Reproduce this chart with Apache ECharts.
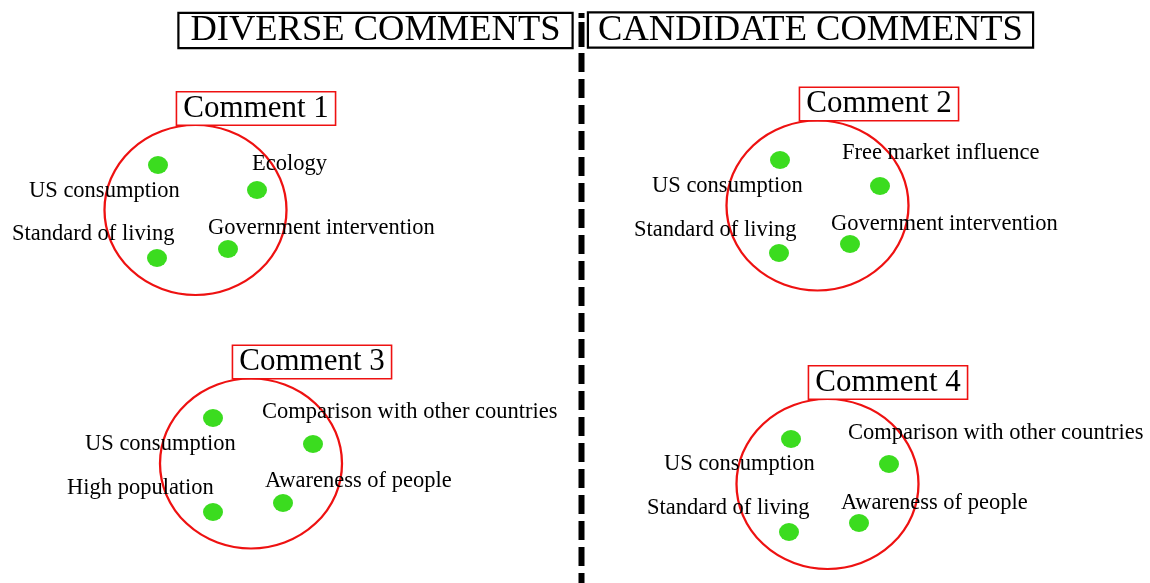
<!DOCTYPE html>
<html>
<head>
<meta charset="utf-8">
<script src="https://cdn.jsdelivr.net/npm/echarts@6/dist/echarts.min.js"></script>
<style>
html,body{margin:0;padding:0;background:#fff;}
#chart{width:1150px;height:583px;}
</style>
</head>
<body>
<div id="chart"></div>
<script>
// ---- data (diagram coordinates: x right, y down) ----
var headerNames = ['DIVERSE COMMENTS', 'CANDIDATE COMMENTS'];
var headerCenters = [[375.5, 30.5], [810.5, 30]];

var commentNames = ['Comment 1', 'Comment 2', 'Comment 3', 'Comment 4'];
var commentBoxCenters = [[256, 108.5], [879, 104], [312, 362], [888, 382.5]];
var circleCenters = [[195.5, 210], [817.5, 205.5], [251, 463.5], [827.5, 484]];

var dots1 = [[158, 165], [257, 190], [157, 258], [228, 249]];
var dots2 = [[780, 160], [880, 186], [779, 253], [850, 244]];
var dots3 = [[213, 418], [313, 444], [213, 512], [283, 503]];
var dots4 = [[791, 439], [889, 464], [789, 532], [859, 523]];

var labels1 = ['US consumption', 'Ecology', 'Standard of living', 'Government intervention'];
var labelAnchors1 = [[29, 190], [252, 163], [12, 233], [208, 227]];
var labels2 = ['US consumption', 'Free market influence', 'Standard of living', 'Government intervention'];
var labelAnchors2 = [[652, 185], [842, 152], [634, 229], [831, 223]];
var labels3 = ['US consumption', 'Comparison with other countries', 'High population', 'Awareness of people'];
var labelAnchors3 = [[85, 443], [262, 411], [67, 487], [265, 480]];
var labels4 = ['US consumption', 'Comparison with other countries', 'Standard of living', 'Awareness of people'];
var labelAnchors4 = [[664, 463], [848, 432], [647, 507], [841, 502]];

var dividerTop = [[581.5, 13], [581.5, 18]];
var dividerUpper = [[581.5, 22], [581.5, 47]];
var dividerMain = [[581.5, 53], [581.5, 583]];

// ---- styles ----
var SERIF = '"Liberation Serif", "Times New Roman", serif';
var RED = '#ee1111';
var GREEN = '#3bdc1f';

var allDots = dots1.concat(dots2, dots3, dots4);
var allLabels = labels1.concat(labels2, labels3, labels4);
var allAnchors = labelAnchors1.concat(labelAnchors2, labelAnchors3, labelAnchors4);

var headerWidths = [392, 443];

function lineSeries(pts, dashed) {
  return {
    type: 'line', data: pts, symbol: 'none', silent: true, z: 1,
    lineStyle: { color: '#000', width: 6, type: dashed ? [19, 7] : 'solid', cap: 'butt' }
  };
}

var option = {
  animation: false,
  backgroundColor: '#fff',
  grid: { left: 0, right: 0, top: 0, bottom: 0 },
  xAxis: { type: 'value', min: 0, max: 1150, show: false },
  yAxis: { type: 'value', min: 0, max: 583, inverse: true, show: false },
  series: [
    lineSeries(dividerTop, false),
    lineSeries(dividerUpper, false),
    lineSeries(dividerMain, true),
    {
      type: 'scatter', name: 'circles', z: 2, silent: true,
      data: circleCenters,
      symbol: 'circle', symbolSize: [182, 170],
      itemStyle: { color: 'rgba(0,0,0,0)', borderColor: RED, borderWidth: 2.2, opacity: 1 }
    },
    {
      type: 'scatter', name: 'dots', z: 3, silent: true,
      data: allDots,
      symbol: 'circle', symbolSize: [20, 18],
      itemStyle: { color: GREEN, opacity: 1 }
    },
    {
      type: 'scatter', name: 'labels', z: 4, silent: true,
      data: allAnchors.map(function (p, i) { return { value: p, name: allLabels[i] }; }),
      symbolSize: 0,
      itemStyle: { opacity: 1 },
      label: {
        show: true, position: 'right', distance: 0, offset: [0, 1.5],
        formatter: '{b}', color: '#000', fontFamily: SERIF, fontSize: 22.5
      }
    },
    {
      type: 'scatter', name: 'comments', z: 5, silent: true,
      data: commentBoxCenters.map(function (p, i) { return { value: p, name: commentNames[i] }; }),
      symbolSize: 0,
      itemStyle: { opacity: 1 },
      label: {
        show: true, position: 'inside', formatter: '{b}',
        color: '#000', fontFamily: SERIF, fontSize: 31, lineHeight: 31,
        padding: [1, 6, 0, 6], borderColor: RED, borderWidth: 1.6, backgroundColor: '#fff'
      }
    },
    {
      type: 'scatter', name: 'headers', z: 5, silent: true,
      data: headerCenters.map(function (p, i) {
        return { value: p, name: headerNames[i], label: { width: headerWidths[i] } };
      }),
      symbolSize: 0,
      itemStyle: { opacity: 1 },
      label: {
        show: true, position: 'inside', formatter: '{b}', align: 'center',
        color: '#000', fontFamily: SERIF, fontSize: 36.5, lineHeight: 34, height: 32,
        padding: [1, 0, 0, 0],
        borderColor: '#000', borderWidth: 2.2, backgroundColor: '#fff'
      }
    }
  ]
};

var chart = echarts.init(document.getElementById('chart'), null, { renderer: 'canvas' });
chart.setOption(option);
</script>
</body>
</html>
